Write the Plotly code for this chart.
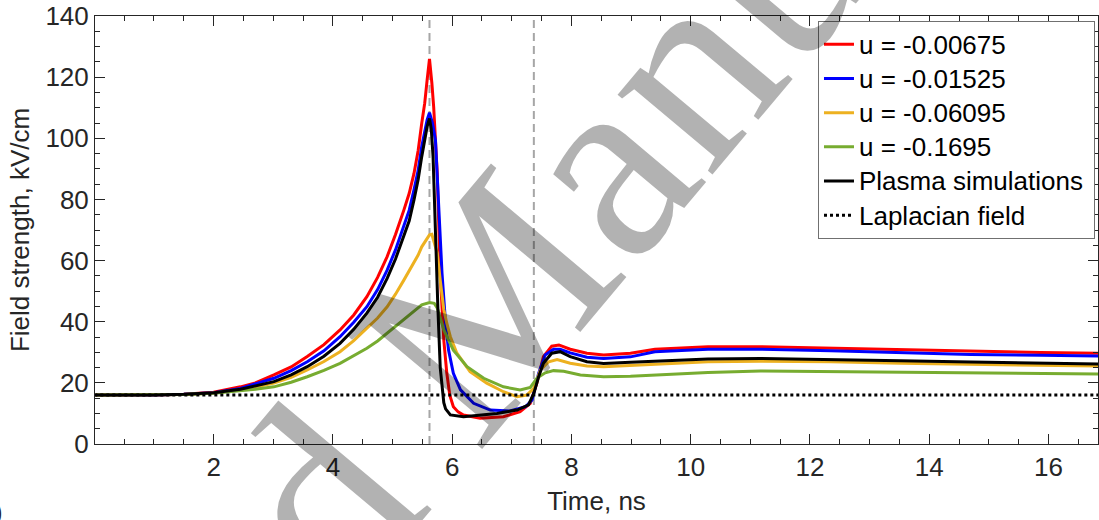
import plotly.graph_objects as go

# ---- data ----
t_red = [0.02, 0.5, 1.0, 1.5, 2.0, 2.45, 2.7, 3.01, 3.3, 3.57, 3.85, 4.12, 4.35, 4.57, 4.75, 4.91, 5.05, 5.19, 5.28, 5.36, 5.43, 5.49, 5.54, 5.58, 5.62, 5.66, 5.69, 5.75, 5.80, 5.86, 5.91, 5.96, 6.02, 6.10, 6.19, 6.47, 6.86, 7.14, 7.31, 7.42, 7.53, 7.67, 7.79, 7.98, 8.26, 8.54, 8.99, 9.40, 10.29, 11.17, 12.35, 13.52, 14.70, 15.87, 16.84]
e_red = [16.0, 16.0, 16.05, 16.3, 16.9, 18.7, 20.0, 22.6, 25.2, 28.6, 32.5, 37.3, 42.2, 48.2, 54.5, 61.3, 68.5, 76.5, 82.0, 88.5, 96.0, 104.9, 111.5, 119.0, 126.0, 118.0, 110.3, 88.6, 55.8, 34.0, 23.2, 16.0, 12.2, 10.5, 9.5, 8.4, 8.9, 10.6, 13.3, 19.9, 28.6, 32.0, 32.4, 31.0, 29.7, 29.1, 29.7, 31.0, 31.8, 31.8, 31.3, 30.7, 30.2, 29.9, 29.7]

t_blue = [0.02, 0.5, 1.0, 1.5, 2.0, 2.45, 2.7, 3.01, 3.3, 3.57, 3.85, 4.12, 4.35, 4.57, 4.75, 4.91, 5.05, 5.19, 5.28, 5.36, 5.43, 5.49, 5.54, 5.58, 5.62, 5.67, 5.72, 5.78, 5.83, 5.89, 5.94, 6.02, 6.14, 6.36, 6.64, 6.97, 7.23, 7.34, 7.45, 7.56, 7.70, 7.81, 7.98, 8.26, 8.54, 8.99, 9.40, 10.29, 11.17, 12.35, 13.52, 14.70, 15.87, 16.84]
e_blue = [16.0, 16.0, 16.05, 16.25, 16.8, 18.2, 19.6, 21.5, 24.0, 26.9, 30.5, 35.1, 39.8, 44.9, 50.5, 56.9, 63.5, 71.1, 76.5, 83.1, 89.5, 97.3, 102.5, 106.0, 108.4, 105.0, 99.4, 77.6, 55.8, 39.5, 30.7, 23.1, 17.7, 13.3, 11.1, 10.8, 12.2, 14.4, 23.1, 29.1, 31.0, 31.0, 29.8, 28.4, 28.0, 28.5, 30.2, 31.0, 31.0, 30.5, 29.9, 29.3, 29.0, 28.8]

t_orange = [0.02, 0.5, 1.0, 1.5, 2.0, 2.45, 2.7, 3.01, 3.3, 3.57, 3.85, 4.12, 4.35, 4.57, 4.75, 4.91, 5.05, 5.19, 5.28, 5.36, 5.43, 5.49, 5.55, 5.62, 5.66, 5.75, 5.80, 5.86, 5.91, 5.97, 6.08, 6.30, 6.58, 6.86, 7.09, 7.25, 7.37, 7.48, 7.62, 7.76, 7.98, 8.26, 8.54, 8.99, 9.40, 10.29, 11.17, 12.35, 13.52, 14.70, 15.87, 16.84]
e_orange = [16.0, 16.0, 16.05, 16.2, 16.7, 17.7, 18.6, 19.9, 21.8, 24.2, 27.0, 30.2, 33.8, 37.8, 41.2, 44.9, 49.0, 53.6, 56.5, 59.1, 61.8, 64.5, 66.5, 68.4, 68.6, 62.4, 53.6, 44.0, 39.5, 35.1, 29.7, 23.7, 19.9, 17.1, 15.5, 16.0, 18.2, 24.2, 26.9, 27.6, 26.4, 25.5, 25.3, 25.7, 26.2, 26.9, 27.1, 26.9, 26.4, 26.1, 25.7, 25.5]

t_green = [0.02, 0.5, 1.0, 1.5, 2.0, 2.45, 2.7, 3.01, 3.3, 3.57, 3.85, 4.12, 4.35, 4.57, 4.75, 4.91, 5.05, 5.19, 5.28, 5.36, 5.49, 5.62, 5.70, 5.75, 5.86, 6.02, 6.25, 6.53, 6.86, 7.14, 7.31, 7.42, 7.56, 7.70, 7.87, 8.15, 8.54, 8.99, 9.40, 10.29, 11.17, 12.35, 13.52, 14.70, 15.87, 16.84]
e_green = [16.0, 16.0, 16.05, 16.2, 16.6, 17.4, 17.9, 18.7, 20.2, 22.0, 24.1, 26.4, 28.8, 31.3, 33.7, 36.2, 38.4, 40.6, 42.0, 43.3, 45.5, 46.3, 46.0, 44.5, 37.3, 30.7, 25.3, 21.5, 18.7, 17.7, 18.5, 21.5, 23.3, 24.0, 23.8, 22.6, 22.0, 22.2, 22.6, 23.4, 23.9, 23.7, 23.4, 23.2, 23.1, 22.9]

t_plasma = [0.02, 0.5, 1.0, 1.5, 2.0, 2.45, 2.7, 3.01, 3.3, 3.57, 3.85, 4.12, 4.35, 4.57, 4.75, 4.91, 5.05, 5.19, 5.28, 5.36, 5.43, 5.49, 5.54, 5.58, 5.62, 5.65, 5.68, 5.72, 5.76, 5.80, 5.83, 5.86, 5.89, 5.97, 6.19, 6.75, 7.09, 7.28, 7.37, 7.45, 7.53, 7.67, 7.81, 7.98, 8.26, 8.54, 8.99, 9.40, 10.29, 11.17, 12.35, 13.52, 14.70, 15.87, 16.84]
e_plasma = [16.0, 16.0, 16.05, 16.25, 16.75, 17.9, 19.0, 20.4, 22.6, 25.3, 28.7, 32.9, 37.5, 42.8, 48.0, 54.2, 60.5, 67.8, 73.0, 79.8, 86.5, 94.0, 99.0, 103.8, 106.5, 103.0, 94.0, 66.7, 44.9, 25.0, 18.0, 13.5, 11.5, 9.5, 8.9, 10.0, 11.1, 12.8, 16.6, 22.0, 26.4, 29.7, 30.2, 28.6, 26.9, 26.3, 26.7, 27.1, 27.8, 28.0, 27.7, 27.2, 26.8, 26.4, 26.2]

laplacian_t = [0.0, 16.9]
laplacian_e = [16.0, 16.0]

marker_times = [5.62, 7.37]  # vertical dashed lines
y_limits = [0, 140]
x_limits = [0.011, 16.83]

names = ["u = -0.00675", "u = -0.01525", "u = -0.06095", "u = -0.1695",
         "Plasma simulations", "Laplacian field"]
x_ticks = [2, 4, 6, 8, 10, 12, 14, 16]
y_ticks = [0, 20, 40, 60, 80, 100, 120, 140]

FONT = "Liberation Sans, Arial, sans-serif"
AX = "#262626"


def leg(txt, pad=""):
    # legend label: 26px text in rows sized for a 24px font (tighter rows, as in the reference)
    return '<span style="font-size:26px">' + txt + pad + "</span>"


fig = go.Figure()

# dashed vertical guide lines (behind curves)
for tm in marker_times:
    fig.add_trace(go.Scatter(x=[tm, tm], y=y_limits, mode="lines",
                             line=dict(color="#a6a6a6", width=2, dash="8px,5px"),
                             showlegend=False, hoverinfo="skip"))

series = [
    (t_red, e_red, "#ff0000"),
    (t_blue, e_blue, "#0000ff"),
    (t_orange, e_orange, "#EDB120"),
    (t_green, e_green, "#77AC30"),
]
for (tx, ey, col), nm in zip(series, names[:4]):
    fig.add_trace(go.Scatter(x=tx, y=ey, mode="lines", name=leg(nm),
                             line=dict(color=col, width=3)))

fig.add_trace(go.Scatter(x=t_plasma, y=e_plasma, mode="lines", name=leg(names[4], "\u2009"),
                         line=dict(color="#000000", width=3)))
fig.add_trace(go.Scatter(x=laplacian_t, y=laplacian_e, mode="lines", name=leg(names[5]),
                         line=dict(color="#000000", width=3, dash="dot")))

axis_common = dict(
    showline=True, linecolor=AX, linewidth=1, mirror="ticks",
    ticks="inside", ticklen=10, tickwidth=1, tickcolor=AX,
    showgrid=False, zeroline=False, automargin=False,
    tickfont=dict(family=FONT, size=26, color=AX),
)

fig.update_layout(
    width=1099, height=520,
    margin=dict(l=95, r=1, t=16, b=76),
    paper_bgcolor="white", plot_bgcolor="white",
    font=dict(family=FONT, size=26, color=AX),
    xaxis=dict(range=x_limits, tickvals=x_ticks, **axis_common,
               minor=dict(dtick=0.5, tick0=0, ticks="inside", ticklen=5, tickcolor=AX, showgrid=False),
               title=dict(text="Time, ns", font=dict(family=FONT, size=26, color=AX), standoff=10)),
    yaxis=dict(range=y_limits, tickvals=y_ticks, **axis_common,
               minor=dict(dtick=5, tick0=0, ticks="inside", ticklen=5, tickcolor=AX, showgrid=False),
               title=dict(text="Field strength, kV/cm", font=dict(family=FONT, size=26, color=AX), standoff=8)),
    legend=dict(x=0.997, y=0.988, xanchor="right", yanchor="top",
                bgcolor="white", bordercolor="#707070", borderwidth=1,
                font=dict(family=FONT, size=24, color="#000000"),
                itemwidth=30, tracegroupgap=0),
    showlegend=True,
)

# watermark
fig.add_annotation(text="Accepted Manuscript", xref="paper", yref="paper",
                   x=0.358, y=0.24, xanchor="center", yanchor="middle",
                   showarrow=False, textangle=-50,
                   font=dict(family="Liberation Serif, Times New Roman, serif", size=270,
                             color="rgba(0,0,0,0.30)"))
# partial panel label at the bottom-left edge
fig.add_annotation(text=")", xref="paper", yref="paper", x=-95/1003, y=-(512-444)/428,
                   xanchor="right", yanchor="middle", xshift=5, showarrow=False,
                   font=dict(family=FONT, size=26, color=AX))

# the page must start at the window's top-left corner (no default body margin)
fig.write_html("out.html", config={"displayModeBar": False},
               post_script="document.body.style.margin='0px';")
